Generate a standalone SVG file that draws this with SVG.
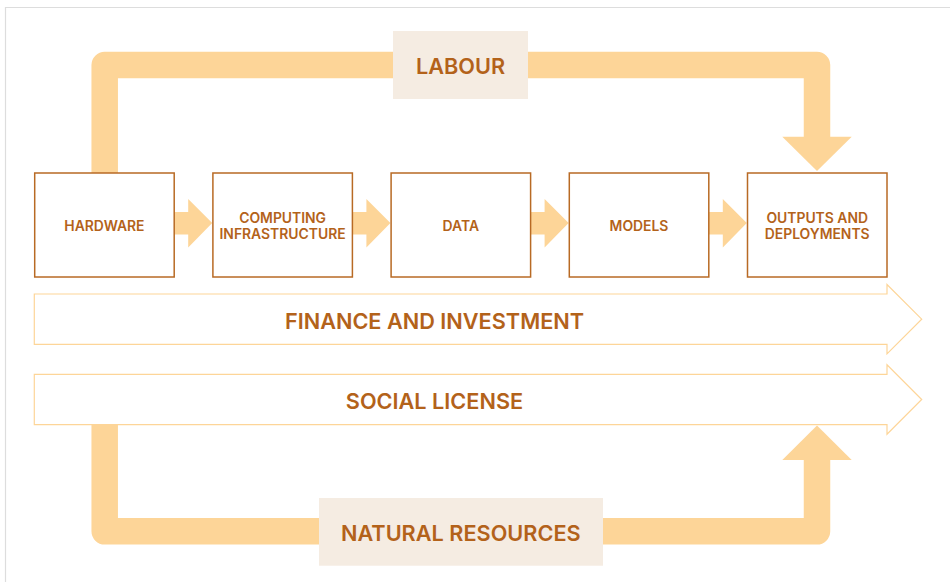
<svg xmlns="http://www.w3.org/2000/svg" width="950" height="582" viewBox="0 0 950 582">
  <style>
    .band { fill: none; stroke: #FDD598; stroke-width: 26.5; stroke-linejoin: round; }
    .head { fill: #FDD598; }
    .step { fill: #FFFFFF; stroke: #B86A24; stroke-width: 1.5; }
    .pillar { fill: #FFFFFF; stroke: #FDD598; stroke-width: 1.2; }
    .tag { fill: #F5ECE2; }
    .lbl { font-family: Inter, "Liberation Sans", sans-serif; font-weight: 600; fill: #B3621A; text-anchor: middle; }
    .small { font-size: 13.9px; }
    .big { font-size: 21.7px; }
  </style>
  <defs>
    <path id="flow" d="M0,-11.2 H14 V-24.2 L38,-0.2 L14,24.2 V11.2 H0 Z" class="head"/>
  </defs>

  <!-- outer frame -->
  <path d="M5.5,582 V7.5 H950" fill="none" stroke="#DDDDDD" stroke-width="1.2"/>

  <g id="connectors">
    <!-- labour loop -->
    <path class="band" d="M104.7,173 V65 H817 V137.5"/>
    <polygon class="head" points="782.3,136.7 851.7,136.7 817,171"/>
    <!-- natural resources loop -->
    <path class="band" d="M104.7,424 V531.3 H817 V459"/>
    <polygon class="head" points="782.3,460 851.7,460 817,425.5"/>
    <!-- step-to-step arrows -->
    <use href="#flow" transform="translate(174.2,223.2)"/>
    <use href="#flow" transform="translate(352.4,223.2)"/>
    <use href="#flow" transform="translate(530.6,223.2)"/>
    <use href="#flow" transform="translate(708.8,223.2)"/>
  </g>

  <g id="labour">
    <rect class="tag" x="393" y="31" width="135" height="68"/>
    <text class="lbl big" x="460.5" y="74">LABOUR</text>
  </g>

  <g id="hardware">
    <rect class="step" x="34.7" y="173" width="139.5" height="104"/>
    <text class="lbl small" x="104.4" y="231">HARDWARE</text>
  </g>
  <g id="computing-infrastructure">
    <rect class="step" x="212.9" y="173" width="139.5" height="104"/>
    <text class="lbl small" x="282.6" y="223.3">COMPUTING</text>
    <text class="lbl small" x="282.6" y="239">INFRASTRUCTURE</text>
  </g>
  <g id="data">
    <rect class="step" x="391.1" y="173" width="139.5" height="104"/>
    <text class="lbl small" x="460.8" y="231">DATA</text>
  </g>
  <g id="models">
    <rect class="step" x="569.3" y="173" width="139.5" height="104"/>
    <text class="lbl small" x="639" y="231">MODELS</text>
  </g>
  <g id="outputs-deployments">
    <rect class="step" x="747.5" y="173" width="139.5" height="104"/>
    <text class="lbl small" x="817.2" y="223.3">OUTPUTS AND</text>
    <text class="lbl small" x="817.2" y="239">DEPLOYMENTS</text>
  </g>

  <g id="finance-investment">
    <path class="pillar" d="M34.3,294 H887 V284.5 L921.7,319.2 L887,353.9 V344.4 H34.3 Z"/>
    <text class="lbl big" x="434.5" y="329.3">FINANCE AND INVESTMENT</text>
  </g>
  <g id="social-license">
    <path class="pillar" d="M34.3,374.3 H887 V364.8 L921.7,399.5 L887,434.2 V424.7 H34.3 Z"/>
    <text class="lbl big" x="434.5" y="409.2">SOCIAL LICENSE</text>
  </g>

  <g id="natural-resources">
    <rect class="tag" x="319" y="498" width="284" height="67.7"/>
    <text class="lbl big" x="460.8" y="540.7">NATURAL RESOURCES</text>
  </g>
</svg>
